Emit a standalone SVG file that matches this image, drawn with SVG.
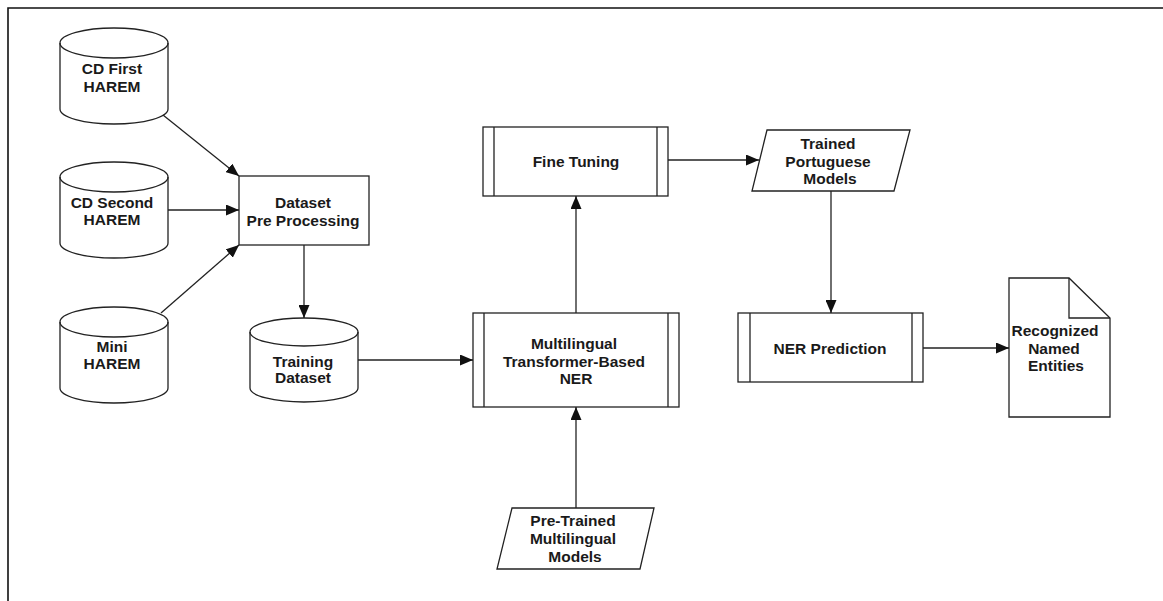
<svg xmlns="http://www.w3.org/2000/svg" width="1163" height="601" viewBox="0 0 1163 601">
<style>
.s{fill:#fff;stroke:#222;stroke-width:1.3}
.t{font-family:"Liberation Sans",Arial,sans-serif;font-weight:bold;font-size:15.5px;fill:#1a1a1a;text-anchor:middle}
.c{fill:none;stroke:#222;stroke-width:1.3}
</style>
<defs>
<marker id="a" markerWidth="13" markerHeight="11" refX="13" refY="5.5" orient="auto" markerUnits="userSpaceOnUse">
<path d="M0,0 L13,5.5 L0,11 Z" fill="#111"/>
</marker>
</defs>
<rect width="1163" height="601" fill="#fff"/>
<path d="M8,601 L8,8 L1163,8" fill="none" stroke="#111" stroke-width="1.6"/>

<g id="cd-first">
<path class="s" d="M60,43 A54,15 0 0 1 168,43 L168,109 A54,15 0 0 1 60,109 Z"/>
<path class="c" d="M60,43 A54,15 0 0 0 168,43"/>
<text class="t" x="112" y="74">CD First</text>
<text class="t" x="112" y="92">HAREM</text>
</g>
<g id="cd-second">
<path class="s" d="M60,177 A54,15 0 0 1 168,177 L168,243 A54,15 0 0 1 60,243 Z"/>
<path class="c" d="M60,177 A54,15 0 0 0 168,177"/>
<text class="t" x="112" y="208">CD Second</text>
<text class="t" x="112" y="225">HAREM</text>
</g>
<g id="mini-harem">
<path class="s" d="M60,322 A54,15 0 0 1 168,322 L168,388 A54,15 0 0 1 60,388 Z"/>
<path class="c" d="M60,322 A54,15 0 0 0 168,322"/>
<text class="t" x="112" y="352">Mini</text>
<text class="t" x="112" y="369">HAREM</text>
</g>
<g id="dataset-pre">
<rect class="s" x="239" y="176" width="130" height="69"/>
<text class="t" x="303" y="208">Dataset</text>
<text class="t" x="303" y="226">Pre Processing</text>
</g>
<g id="training-dataset">
<path class="s" d="M250,332 A54,14 0 0 1 358,332 L358,388 A54,14 0 0 1 250,388 Z"/>
<path class="c" d="M250,332 A54,14 0 0 0 358,332"/>
<text class="t" x="303" y="367">Training</text>
<text class="t" x="303" y="383">Dataset</text>
</g>
<g id="multilingual-ner">
<rect class="s" x="473" y="313" width="206" height="94"/>
<path class="c" d="M484,313 V407 M668,313 V407"/>
<text class="t" x="574" y="349">Multilingual</text>
<text class="t" x="574" y="367">Transformer-Based</text>
<text class="t" x="576" y="384">NER</text>
</g>
<g id="fine-tuning">
<rect class="s" x="483" y="127" width="185" height="69"/>
<path class="c" d="M494,127 V196 M657,127 V196"/>
<text class="t" x="576" y="167">Fine Tuning</text>
</g>
<g id="trained-portuguese">
<polygon class="s" points="767,130 910,130 894,191 752,191"/>
<text class="t" x="828" y="149">Trained</text>
<text class="t" x="828" y="167">Portuguese</text>
<text class="t" x="830" y="184">Models</text>
</g>
<g id="ner-prediction">
<rect class="s" x="738" y="313" width="185" height="69"/>
<path class="c" d="M750,313 V382 M912,313 V382"/>
<text class="t" x="830" y="354">NER Prediction</text>
</g>
<g id="recognized-entities">
<path class="s" d="M1009,278 L1069,278 L1110,318 L1110,417 L1009,417 Z"/>
<path class="c" d="M1069,278 L1069,318 L1110,318"/>
<text class="t" x="1055" y="336">Recognized</text>
<text class="t" x="1054" y="354">Named</text>
<text class="t" x="1056" y="371">Entities</text>
</g>
<g id="pre-trained">
<polygon class="s" points="512,508 654,508 640,569 497,569"/>
<text class="t" x="573" y="526">Pre-Trained</text>
<text class="t" x="573" y="544">Multilingual</text>
<text class="t" x="575" y="562">Models</text>
</g>

<g id="connectors" class="c">
<line x1="163" y1="115" x2="239" y2="176" marker-end="url(#a)"/>
<line x1="168" y1="210" x2="239" y2="210" marker-end="url(#a)"/>
<line x1="161" y1="313" x2="239" y2="245" marker-end="url(#a)"/>
<line x1="304" y1="245" x2="304" y2="318" marker-end="url(#a)"/>
<line x1="358" y1="360" x2="473" y2="360" marker-end="url(#a)"/>
<line x1="576" y1="313" x2="576" y2="196" marker-end="url(#a)"/>
<line x1="576" y1="508" x2="576" y2="407" marker-end="url(#a)"/>
<line x1="668" y1="160" x2="759" y2="160" marker-end="url(#a)"/>
<line x1="831" y1="191" x2="831" y2="313" marker-end="url(#a)"/>
<line x1="923" y1="348" x2="1009" y2="348" marker-end="url(#a)"/>
</g>
</svg>
